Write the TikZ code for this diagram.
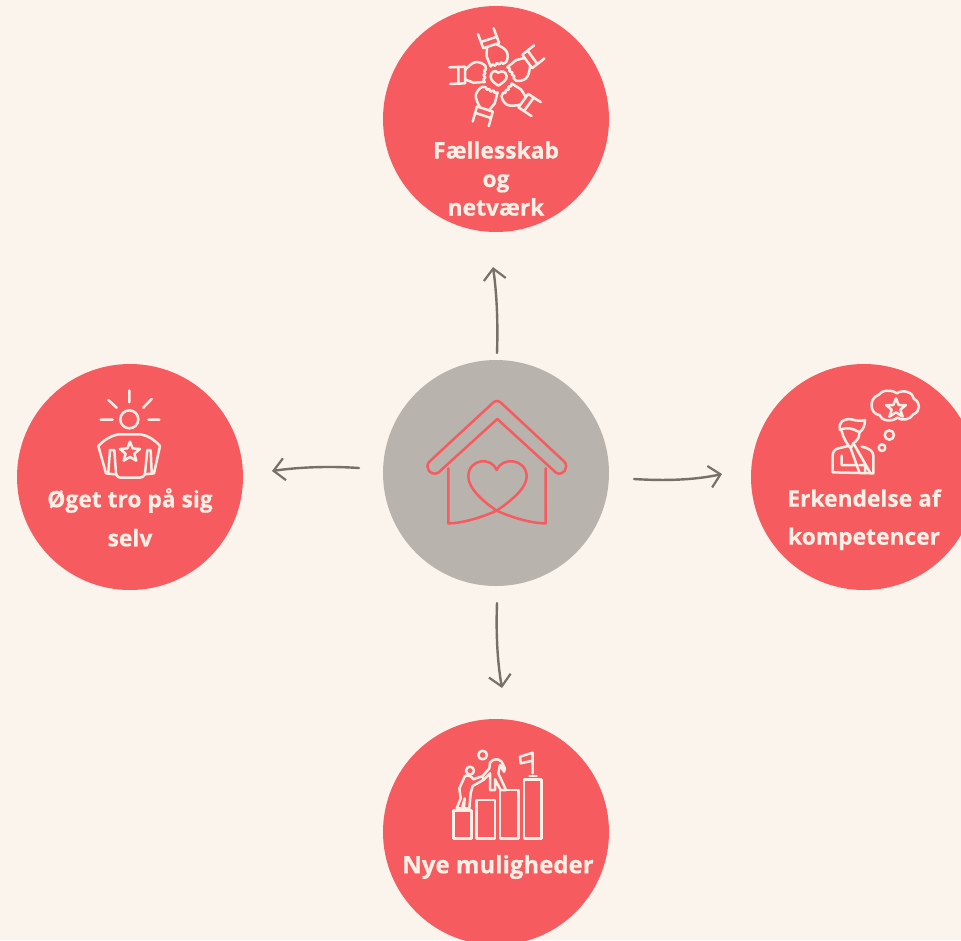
\documentclass[tikz,border=0pt]{standalone}
\usepackage{fontspec}
\setmainfont[BoldFeatures={FakeBold=0.5}]{Open Sans}
\usetikzlibrary{arrows.meta}
\definecolor{bgc}{HTML}{FBF4EC}
\definecolor{redc}{HTML}{F55B5F}
\definecolor{hubc}{HTML}{B9B3AD}
\definecolor{arrc}{HTML}{767069}
\definecolor{txtc}{HTML}{FCF0E6}
\tikzset{
  blob/.style={circle,fill=redc,minimum size=226pt,inner sep=0pt},
  hubblob/.style={circle,fill=hubc,minimum size=226pt,inner sep=0pt},
  lab/.style={text=txtc,font=\fontsize{22.8}{28.5}\selectfont\bfseries,align=center,inner sep=0pt},
  arr/.style={draw=arrc,line width=2.4pt,line cap=round,-{Straight Barb[length=11pt,width=22pt,line width=2.2pt]}},
  ico/.style={draw=txtc,line width=2.5pt,line cap=round,line join=round},
  hico/.style={draw=redc,line width=2.5pt,line cap=round,line join=round},
}
\begin{document}
\begin{tikzpicture}[x=1pt,y=-1pt]
\useasboundingbox (0,0) rectangle (961,940);
\clip (0,0) rectangle (961,940);
\fill[bgc] (0,0) rectangle (961,940);
\node[blob] (top) at (496,119) {};
\node[hubblob] (hub) at (496,473) {};
\node[blob] (left) at (130,477) {};
\node[blob] (right) at (864,477) {};
\node[blob] (bottom) at (496,832) {};
% labels
\node[lab,anchor=north] (ltop) at (496,141) {Fællesskab\\og\\netværk};
\node[lab,anchor=north,font=\fontsize{22.8}{39}\selectfont\bfseries] (lleft) at (130,488) {Øget tro på sig\\selv};
\node[lab,anchor=north,font=\fontsize{22.8}{38}\selectfont\bfseries] (lright) at (864,489) {Erkendelse af\\kompetencer};
\node[lab,font=\fontsize{24}{28}\selectfont\bfseries] (lbottom) at (498,867) {Nye muligheder};
% arrows
\coordinate (u1) at (497,353); \coordinate (u2) at (493,267);
\coordinate (d1) at (497,603); \coordinate (d2) at (502,688);
\coordinate (l1) at (359,468); \coordinate (l2) at (272,471);
\coordinate (r1) at (634,479); \coordinate (r2) at (722,474);
\draw[arr] (u1) .. controls (498,325) and (497,295) .. (u2);
\draw[arr] (d1) .. controls (496,630) and (497,660) .. (d2);
\draw[arr] (l1) .. controls (330,466) and (300,467) .. (l2);
\draw[arr] (r1) .. controls (665,481) and (695,480) .. (r2);
% house
\begin{scope}[shift={(400,380)},scale=1/3]
\draw[hico] (275,72) .. controls (285,60) and (297,60) .. (307,72)
  -- (493,245) .. controls (508,262) and (490,290) .. (468,278)
  -- (292,117) -- (115,278) .. controls (92,290) and (72,262) .. (88,245) -- cycle;
\draw[hico] (145,265) -- (145,430) .. controls (190,430) and (250,410) .. (290,392)
  .. controls (330,365) and (380,325) .. (380,290)
  .. controls (380,235) and (305,230) .. (290,270)
  .. controls (275,230) and (205,235) .. (205,290)
  .. controls (205,325) and (250,365) .. (290,392)
  .. controls (330,410) and (390,430) .. (437,430) -- (437,265);
\end{scope}
% hands
\begin{scope}[shift={(420,20)},scale=1/3]
\draw[ico] (235,158) .. controls (225,148) and (212,155) .. (212,170)
  .. controls (212,182) and (225,190) .. (235,197)
  .. controls (245,190) and (262,180) .. (260,168)
  .. controls (258,155) and (245,150) .. (235,158) -- cycle;
\foreach \k in {0,1,2,3,4}{
\begin{scope}[shift={(235,175)},rotate=-72*\k,shift={(-235,-175)}]
\draw[ico] (88,142) -- (135,140) (90,192) -- (135,190)
 (115,142) -- (115,190) (135,140) -- (135,190);
\draw[ico] (135,150) .. controls (145,140) and (155,128) .. (168,126)
 .. controls (178,126) and (190,130) .. (196,138)
 -- (198,148) -- (192,152) -- (196,160) -- (190,165) -- (196,173) -- (190,178) -- (194,186)
 -- (160,188) -- (135,178);
\end{scope}}
\end{scope}
% person with star
\begin{scope}[shift={(80,385)},scale=1/3]
\draw[ico] (148,16) -- (148,52) (85,45) -- (110,68) (215,42) -- (190,68) (62,104) -- (98,104) (205,104) -- (238,104);
\draw[ico] (148,103) circle (27);
\draw[ico] (115,148) -- (182,148) .. controls (205,152) and (225,165) .. (240,183)
 -- (222,265) -- (195,268) (115,148) .. controls (92,152) and (72,165) .. (55,183) -- (78,265) -- (103,268);
\draw[ico] (90,195) -- (103,195) -- (108,265) .. controls (110,275) and (115,278) .. (125,278) -- (175,278)
 .. controls (185,278) and (192,275) .. (195,265) -- (202,195) -- (212,195) -- (215,262);
\draw[ico] (90,195) -- (85,262);
\draw[ico] (150,170) -- (158,190) -- (180,192) -- (163,206) -- (169,227) -- (150,216) -- (131,227) -- (137,206) -- (120,192) -- (142,190) -- cycle;
\end{scope}
% thinker
\begin{scope}[shift={(820,385)},scale=1/3]
\draw[ico] (175,30) .. controls (185,15) and (215,12) .. (230,25)
 .. controls (250,12) and (280,22) .. (282,42)
 .. controls (302,50) and (302,80) .. (280,88)
 .. controls (270,105) and (245,108) .. (232,98)
 .. controls (215,112) and (185,108) .. (178,90)
 .. controls (150,88) and (145,40) .. (175,30) -- cycle;
\draw[ico] (228,40) -- (236,60) -- (258,60) -- (241,74) -- (248,95) -- (228,82) -- (208,95) -- (215,74) -- (198,60) -- (220,60) -- cycle;
\draw[ico] (208,150) circle (14) (186,188) circle (10);
\draw[ico] (60,135) .. controls (55,110) and (70,100) .. (95,103) .. controls (110,108) and (125,108) .. (135,105)
 .. controls (135,120) and (130,135) .. (118,142) .. controls (100,130) and (80,125) .. (60,135) -- cycle;
\draw[ico] (65,138) .. controls (70,160) and (80,175) .. (92,190) -- (100,175) .. controls (115,165) and (118,155) .. (118,142);
\draw[ico] (85,183) -- (55,190) .. controls (45,192) and (38,200) .. (38,212) -- (38,262) -- (160,265) -- (160,212) .. controls (160,200) and (150,190) .. (125,185);
\draw[ico] (102,178) -- (150,262) (92,190) -- (118,262) (65,212) -- (65,240) -- (108,240) (118,240) -- (135,240) (135,240) -- (135,265);
\end{scope}
% climbers
\begin{scope}[shift={(440,740)},scale=1/3]
\draw[ico] (40,212) rectangle (95,295);
\draw[ico] (110,180) rectangle (165,295);
\draw[ico] (180,150) rectangle (235,295);
\draw[ico] (252,118) rectangle (305,295);
\draw[ico] (278,100) -- (278,38) -- (240,50) -- (242,70) -- (278,62);
\draw[ico] (268,108) -- (290,108);
\draw[ico] (90,92) circle (12) (128,45) circle (13);
\draw[ico] (50,205) -- (62,175) -- (58,145) -- (75,108) .. controls (85,105) and (95,108) .. (100,118) -- (128,108) -- (130,120) -- (98,138) -- (92,160) -- (88,205) -- (72,205) -- (74,175) -- (66,205) -- cycle;
\draw[ico] (128,108) -- (148,85) -- (150,68) .. controls (160,55) and (175,55) .. (185,65) -- (195,85) -- (192,95) -- (180,75) -- (175,100) -- (198,150) -- (182,150) -- (165,118) -- (165,150) -- (150,150) -- (150,100) -- (130,120);
\end{scope}
\end{tikzpicture}
\end{document}
